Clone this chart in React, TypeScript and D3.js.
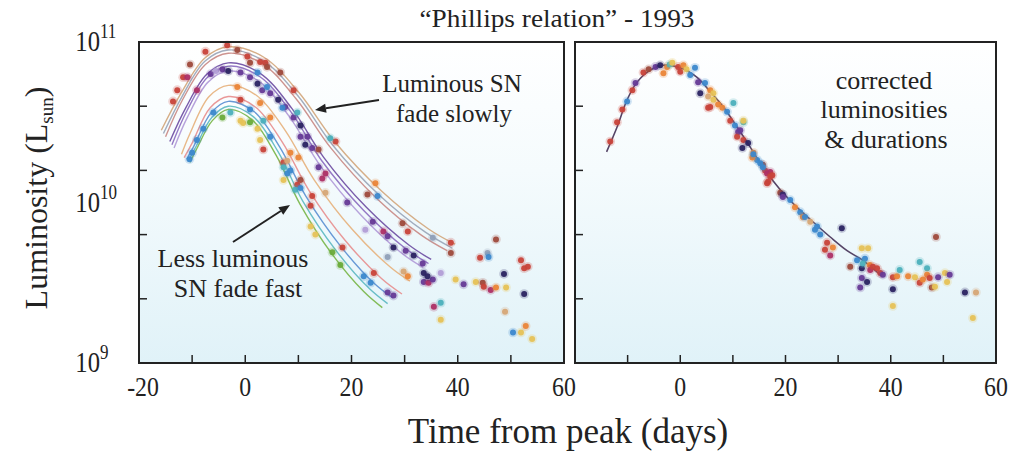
import React from "react";
import * as d3 from "d3";

// ---------- DATA ----------
const titleText = "\u201CPhillips relation\u201D - 1993";
const xTickMinor = [-10, 0, 10, 20, 30, 40, 50];
const leftXLabels = [-20, 0, 20, 40, 60];
const rightXLabels = [0, 20, 40, 60];
const yTickLogs = [9.4, 9.8, 10.2, 10.6];
const yDecades = [9, 10, 11];

// left panel template fits (time [days], log10 L)
const leftCurves: number[][][] = [
  [[-15.8,10.45],[-12.1,10.68],[-7.6,10.9],[-3.2,10.97],[3.5,10.905],[10.1,10.685],[16.8,10.38],[25.7,10.07],[34.5,9.835],[39.5,9.74]],
  [[-15.4,10.43],[-11.9,10.66],[-7.6,10.88],[-3.2,10.95],[3.3,10.885],[9.9,10.665],[16.4,10.36],[25.1,10.05],[33.9,9.815],[39,9.715]],
  [[-15.0,10.41],[-11.8,10.64],[-7.5,10.86],[-3.2,10.93],[3.2,10.865],[9.6,10.645],[16.1,10.34],[24.6,10.03],[33.2,9.795],[38,9.7]],
  [[-14.2,10.38],[-11.2,10.59],[-7.2,10.8],[-3.2,10.87],[2.8,10.805],[8.8,10.585],[14.8,10.28],[22.8,9.97],[30.8,9.735],[35,9.645]],
  [[-13.8,10.36],[-11.0,10.57],[-7.1,10.78],[-3.2,10.85],[2.7,10.785],[8.6,10.565],[14.4,10.26],[22.3,9.95],[30.1,9.715],[34.5,9.62]],
  [[-13.4,10.34],[-10.9,10.53],[-7.0,10.75],[-3.2,10.82],[2.6,10.755],[8.3,10.535],[14.1,10.23],[21.8,9.92],[29.4,9.685],[33.5,9.595]],
  [[-12.0,10.3],[-10.4,10.43],[-6.8,10.66],[-3.2,10.73],[2.2,10.665],[7.6,10.445],[13.0,10.14],[20.2,9.83],[27.4,9.595],[31,9.51]],
  [[-11.5,10.28],[-10.0,10.37],[-6.6,10.59],[-3.2,10.66],[1.9,10.595],[7.0,10.375],[12.1,10.07],[18.9,9.76],[25.7,9.525],[29.5,9.43]],
  [[-11.0,10.27],[-9.7,10.35],[-6.4,10.56],[-3.2,10.63],[1.7,10.565],[6.5,10.345],[11.4,10.04],[17.9,9.73],[24.3,9.495],[27.8,9.405]],
  [[-10.7,10.26],[-9.4,10.34],[-6.3,10.53],[-3.2,10.6],[1.5,10.535],[6.2,10.315],[10.8,10.01],[17.1,9.7],[23.3,9.465],[26.8,9.37]],
  [[-10.4,10.25],[-9.2,10.33],[-6.2,10.51],[-3.2,10.58],[1.3,10.515],[5.8,10.295],[10.3,9.99],[16.3,9.68],[22.3,9.445],[25.8,9.345]],
];

// right panel template
const rightCurve: number[][] = [
  [-14.0,10.315],[-12.0,10.47],[-10.1,10.64],[-8.2,10.75],[-5.7,10.825],[-3.2,10.855],[0,10.84],[3.2,10.78],
  [5.7,10.69],[8.2,10.595],[10.8,10.47],[13.3,10.345],[15.7,10.22],[19.0,10.08],[22.2,9.97],[25.2,9.88],
  [28.5,9.785],[31.7,9.7],[34.7,9.64],[38.0,9.55],
];

// observations: [time, log10 L, colour key]
const leftDots: [number, number, string][] = [
  [-13.6,10.63,"R"],[-12.8,10.7,"R"],[-11.7,10.78,"R"],[-10.9,10.78,"M"],[-10.4,10.86,"Br"],[-7.5,10.94,"R"],[-9.1,10.7,"M"],
  [-3.4,10.98,"R"],[-1.5,10.95,"Br"],[0.4,10.91,"R"],[0.9,10.87,"Br"],[2.8,10.875,"R"],[3.8,10.87,"R"],[4.1,10.845,"Br"],
  [6.6,10.81,"Br"],[9.1,10.7,"R"],
  [-6.5,10.8,"P"],[-5.5,10.82,"Lv"],[-4.3,10.83,"P"],[-3.2,10.82,"N"],[-0.9,10.81,"P"],[0.9,10.78,"P"],[2.3,10.74,"N"],
  [3.2,10.7,"P"],[4.7,10.68,"P"],[6.2,10.64,"N"],[7.5,10.595,"P"],[9.1,10.53,"P"],[10.4,10.48,"N"],[11.7,10.41,"P"],
  [2.3,10.81,"B"],[4.1,10.72,"B"],[7.0,10.59,"B"],[9.8,10.56,"T"],
  [-1.5,10.72,"O"],[2.8,10.62,"O"],[4.7,10.53,"O"],[-0.9,10.64,"R"],[0.9,10.58,"B"],[-6.0,10.56,"B"],[-7.9,10.46,"B"],
  [-9.1,10.39,"B"],[-10.0,10.31,"B"],[-10.5,10.27,"B"],
  [-4.3,10.53,"G"],[-2.8,10.56,"T"],[-0.9,10.51,"Y"],[-0.4,10.495,"Y"],[0.9,10.5,"G"],[2.3,10.46,"Y"],[2.8,10.39,"Y"],
  [3.4,10.51,"T"],[4.7,10.41,"B"],[3.4,10.33,"R"],[7.2,10.25,"R"],[7.9,10.18,"B"],
  [17,10.38,"R"],[16,10.4,"T"],[13.8,10.33,"Br"],[23,10.05,"Br"],[24.5,10.12,"O"],[24.9,10.04,"B"],[29.6,9.87,"Br"],
  [30.6,9.82,"R"],[35.3,9.78,"Gy"],[38.7,9.75,"R"],[38.7,9.685,"Br"],
  [19.2,10.0,"P"],[15.1,10.18,"M"],[14.5,10.15,"M"],[13.8,10.22,"P"],[11.3,10.36,"N"],[10.4,10.41,"P"],[12.6,10.34,"P"],
  [24,9.88,"P"],[26,9.82,"M"],[26.8,9.79,"P"],[27.9,9.72,"N"],[30.2,9.7,"P"],[31.7,9.67,"N"],[33.4,9.62,"P"],[33.6,9.56,"N"],
  [26.8,9.66,"Gy"],[22.6,9.83,"Lv"],
  [15.1,10.06,"Tn"],[12.6,10.04,"R"],[12.3,9.98,"R"],[10.4,10.14,"Br"],[9.8,10.11,"R"],[10,10.28,"O"],[8.5,10.31,"O"],
  [7.9,10.26,"Tn"],[8.5,10.2,"B"],[7.2,10.22,"T"],[9.4,10.08,"T"],[10.4,10.09,"B"],[7.2,10.14,"Y"],[12.3,9.85,"Y"],
  [13.2,9.8,"Y"],[16.4,9.69,"G"],[17.9,9.61,"G"],[18.3,9.72,"R"],[22.3,9.54,"B"],[23.6,9.5,"B"],[24.2,9.56,"R"],
  [26.8,9.44,"P"],[27.9,9.42,"P"],[29.8,9.57,"Tn"],[30.6,9.54,"O"],
  [33.6,9.505,"P"],[34.5,9.5,"M"],[35.3,9.52,"P"],[34.3,9.54,"N"],[36.8,9.56,"Lv"],[35.5,9.35,"M"],[36.8,9.375,"T"],
  [36.8,9.27,"Y"],[39.6,9.52,"Y"],[41.1,9.49,"P"],[43.4,9.505,"Y"],[44.7,9.5,"Br"],[44.9,9.475,"R"],[46.2,9.455,"M"],
  [47.2,9.47,"O"],[49.1,9.47,"Y"],[52.5,9.43,"N"],[48.9,9.32,"Tn"],[50.4,9.19,"B"],[51.9,9.19,"Y"],[52.8,9.23,"O"],
  [54.0,9.15,"Y"],[47.2,9.77,"Br"],[44.2,9.655,"R"],[45.6,9.685,"Gy"],[45.8,9.66,"B"],[51.9,9.64,"R"],[52.5,9.59,"R"],
  [53.2,9.6,"R"],[48.7,9.555,"N"],
];

const rightDots: [number, number, string][] = [
  [-13.3,10.38,"R"],[-12,10.5,"R"],[-11,10.58,"R"],[-10.1,10.63,"B"],[-9.1,10.7,"R"],[-8.5,10.745,"P"],[-7,10.81,"R"],
  [-6,10.83,"Br"],[-4.7,10.845,"P"],[-3.8,10.855,"N"],[-2.5,10.845,"O"],[-3.2,10.805,"O"],[-2,10.86,"T"],[-1.5,10.87,"Y"],
  [-0.4,10.845,"R"],[0,10.815,"R"],[0.6,10.855,"O"],[1.2,10.83,"Y"],[1.9,10.795,"B"],[2.8,10.84,"B"],[3.4,10.75,"P"],
  [4.7,10.745,"B"],[3.8,10.68,"N"],[5.3,10.66,"Tn"],[6.3,10.64,"Y"],[5.7,10.595,"R"],[7.2,10.61,"O"],[8,10.59,"O"],
  [10.1,10.62,"T"],[8.9,10.565,"B"],[9.5,10.51,"R"],[10.4,10.48,"B"],[12,10.5,"T"],[11,10.44,"P"],[10.8,10.41,"R"],
  [12,10.39,"R"],[11.8,10.34,"N"],[12.9,10.37,"N"],[13.9,10.31,"O"],[14.6,10.265,"B"],[15.7,10.235,"Br"],[16.5,10.12,"R"],
  [5.7,10.7,"O"],[6.3,10.68,"Y"],[5.3,10.59,"R"],[12,10.51,"Y"],[11.4,10.45,"P"],[13.7,10.28,"O"],[16.1,10.2,"R"],
  [17.1,10.19,"M"],[13.9,10.3,"B"],[15.2,10.245,"B"],[15.7,10.22,"B"],[16.5,10.18,"M"],[16.7,10.13,"R"],[17.5,10.17,"R"],
  [17.1,10.16,"R"],[19,10.06,"Br"],[19.5,10.05,"N"],[19.5,10.035,"P"],[20.9,10.015,"B"],[21.8,9.97,"O"],[22.8,9.94,"B"],
  [23.3,9.91,"O"],[23.7,9.91,"B"],[24.7,9.88,"Tn"],[25.6,9.83,"B"],[26,9.85,"B"],[26.6,9.8,"B"],[27.5,9.705,"R"],
  [27.9,9.75,"R"],[28.5,9.67,"M"],[29,9.72,"O"],[30.7,9.84,"N"],[32.3,9.6,"Br"],[33.6,9.64,"B"],[34.5,9.715,"Y"],
  [35.7,9.715,"Y"],[34.5,9.59,"N"],[35.1,9.65,"B"],[34.7,9.62,"T"],[34.5,9.53,"P"],[35.5,9.505,"N"],[34.2,9.47,"P"],
  [36,9.61,"O"],[36.1,9.58,"M"],[36.6,9.6,"R"],[37.4,9.59,"R"],[38,9.56,"R"],[38.5,9.55,"P"],[40.4,9.46,"N"],
  [40.4,9.535,"R"],[41.2,9.54,"O"],[41.7,9.58,"T"],[40.4,9.355,"Y"],[43.3,9.54,"O"],[44.6,9.535,"Y"],[45.5,9.63,"T"],
  [46.9,9.59,"T"],[45.5,9.5,"R"],[46.1,9.52,"O"],[46.9,9.55,"O"],[47.4,9.53,"R"],[47.8,9.47,"Br"],[48.4,9.475,"Y"],
  [49,9.535,"P"],[50.3,9.56,"Y"],[50.7,9.505,"Y"],[51.2,9.55,"P"],[54.1,9.44,"N"],[56.2,9.44,"Tn"],[55.6,9.28,"Y"],
  [48.6,9.785,"Br"],
];

// ---------- STYLES ----------
const dotColors: Record<string, string> = {
  R: "#c8433a", Br: "#9e4a3c", P: "#663a96", N: "#2b2462", B: "#3c88cc", T: "#4cb0bc",
  O: "#ea8538", Y: "#e6c257", M: "#ad3066", G: "#6aab3a", Tn: "#d6a676", Gy: "#90a0b8", Lv: "#b29ed6",
};
const curveColors = ["#d2a77d", "#9aa6b8", "#c98a86", "#6e4ea3", "#8b6cc0", "#b19ad8", "#e6b27e", "#e78f8f", "#5b90d2", "#5db9c2", "#79b64a"];

const FONT = "'Liberation Serif', 'Times New Roman', serif";
const W = 1022, H = 459;
const TOP = 42, BOTTOM = 363;
const leftRange: [number, number] = [139, 564];
const rightRange: [number, number] = [575, 996];

const y = d3.scaleLog().domain([1e9, 1e11]).range([BOTTOM, TOP]);
const yL = (l: number) => y(Math.pow(10, l));

function Panel({ range, curves, colors, dots, labels, mainCurve }: any) {
  const x = d3.scaleLinear().domain([-20, 60]).range(range);
  const line = d3.line<number[]>().x((d) => x(d[0])).y((d) => yL(d[1])).curve(d3.curveCatmullRom.alpha(0.5));
  return (
    <g>
      <rect x={range[0]} y={TOP} width={range[1] - range[0]} height={BOTTOM - TOP} fill="url(#bg)" />
      {curves.map((c: number[][], i: number) => (
        <path key={i} d={line(c) || ""} fill="none" stroke={colors[i]} strokeWidth={1.4} opacity={0.92} />
      ))}
      {mainCurve && <path d={line(mainCurve) || ""} fill="none" stroke="#554466" strokeWidth={1.6} />}
      {dots.map((d: [number, number, string], i: number) => (
        <g key={i}>
          <circle cx={x(d[0])} cy={yL(d[1])} r={4.8} fill={dotColors[d[2]]} opacity={0.22} />
          <circle cx={x(d[0])} cy={yL(d[1])} r={3} fill={dotColors[d[2]]} opacity={0.95} />
        </g>
      ))}
      {xTickMinor.map((t) => (
        <line key={"xt" + t} x1={x(t)} x2={x(t)} y1={BOTTOM} y2={BOTTOM - 8} stroke="#222" strokeWidth={1.5} />
      ))}
      {yTickLogs.map((l) => (
        <line key={"yt" + l} x1={range[0]} x2={range[0] + 8} y1={yL(l)} y2={yL(l)} stroke="#222" strokeWidth={1.5} />
      ))}
      <rect x={range[0]} y={TOP} width={range[1] - range[0]} height={BOTTOM - TOP} fill="none" stroke="#222" strokeWidth={2} />
      {labels.map((t: number) => (
        <text key={"xl" + t} transform={`translate(${x(t) + (t < 0 ? 4 : 0)},396) scale(0.85,1)`} textAnchor="middle" fontSize={28} fontFamily={FONT} fill="#222">
          {t}
        </text>
      ))}
    </g>
  );
}

function Arrow({ x1, y1, x2, y2 }: any) {
  const a = Math.atan2(y2 - y1, x2 - x1);
  const L = 11, w = 4.5;
  const bx = x2 - L * Math.cos(a), by = y2 - L * Math.sin(a);
  const p1 = [bx + w * Math.sin(a), by - w * Math.cos(a)];
  const p2 = [bx - w * Math.sin(a), by + w * Math.cos(a)];
  return (
    <g>
      <line x1={x1} y1={y1} x2={bx} y2={by} stroke="#222" strokeWidth={2} />
      <polygon points={`${x2},${y2} ${p1[0]},${p1[1]} ${p2[0]},${p2[1]}`} fill="#222" />
    </g>
  );
}

export default function App() {
  return (
    <svg width={W} height={H} style={{ position: "absolute", left: 0, top: 0, background: "#fff" }} fontFamily={FONT}>
      <defs>
        <linearGradient id="bg" x1="0" y1="0" x2="0" y2="1">
          <stop offset="0" stopColor="#ffffff" />
          <stop offset="0.4" stopColor="#f5fbfd" />
          <stop offset="1" stopColor="#e0f2f8" />
        </linearGradient>
      </defs>
      <text x={557} y={27} textAnchor="middle" fontSize={25} textLength={275} lengthAdjust="spacingAndGlyphs" fill="#222">{titleText}</text>

      <Panel range={leftRange} curves={leftCurves} colors={curveColors} dots={leftDots} labels={leftXLabels} />
      <Panel range={rightRange} curves={[]} colors={[]} dots={rightDots} labels={rightXLabels} mainCurve={rightCurve} />

      {yDecades.map((d) => (
        <g key={"yd" + d}>
          <text transform={`translate(100,${yL(d) + 9}) scale(0.85,1)`} textAnchor="end" fontSize={29} fill="#222">10</text>
          <text transform={`translate(100,${yL(d) - 4}) scale(0.85,1)`} textAnchor="start" fontSize={20} fill="#222">{d}</text>
        </g>
      ))}

      <text transform="translate(47,198) rotate(-90)" textAnchor="middle" fontSize={32} fill="#222">
        Luminosity (L<tspan fontSize={19} dy={6}>sun</tspan><tspan dy={-6}>)</tspan>
      </text>
      <text x={568} y={443} textAnchor="middle" fontSize={35} fill="#222">Time from peak (days)</text>

      <text x={452} y={92} textAnchor="middle" fontSize={25} fill="#222">Luminous SN</text>
      <text x={454} y={122} textAnchor="middle" fontSize={25} fill="#222">fade slowly</text>
      <Arrow x1={379} y1={100} x2={315} y2={110} />

      <text x={233} y={267} textAnchor="middle" fontSize={26} fill="#222">Less luminous</text>
      <text x={238} y={297} textAnchor="middle" fontSize={26} fill="#222">SN fade fast</text>
      <Arrow x1={233} y1={242} x2={290} y2={205} />

      <text x={884} y={89} textAnchor="middle" fontSize={26} fill="#222">corrected</text>
      <text x={884} y={118} textAnchor="middle" fontSize={26} fill="#222">luminosities</text>
      <text x={886} y={148} textAnchor="middle" fontSize={26} fill="#222">&amp; durations</text>
    </svg>
  );
}
